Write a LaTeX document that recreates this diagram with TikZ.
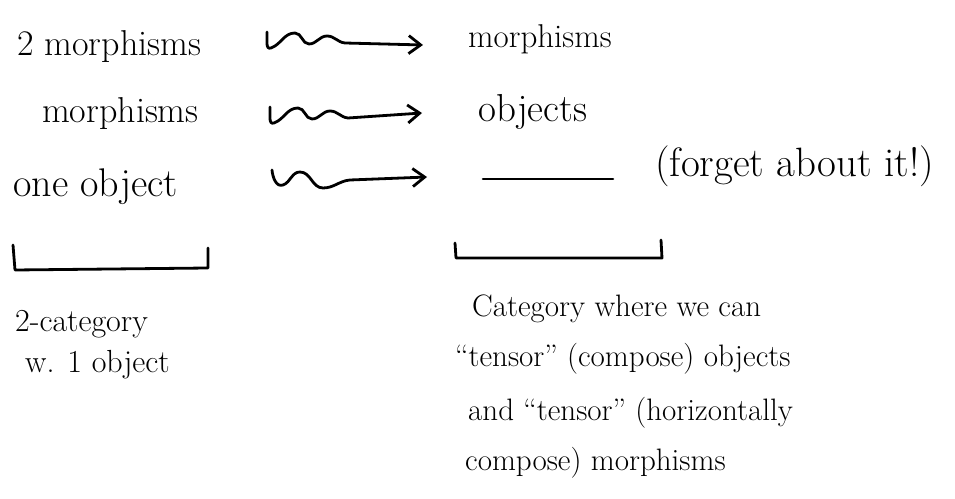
\documentclass[tikz,border=0pt]{standalone}
\usetikzlibrary{arrows.meta}
\begin{document}
\begin{tikzpicture}[x=1pt,y=1pt,
  hw/.style={font=\fontsize{#1}{#1}\selectfont, inner sep=0pt, anchor=base west},
  stroke/.style={line width=2.8pt, line cap=round, line join=round},
  wavy/.style={stroke, -{Straight Barb[length=12pt, width=18pt, line width=2.8pt]}}]
\useasboundingbox (0,0) rectangle (955,498);
% row 1
\node[hw=36] (l1) at (17,442) {2 morphisms};
\node[hw=33] (r1) at (468,450) {morphisms};
\coordinate (s1) at (267,466); \coordinate (e1) at (423,453);
\draw[wavy] (s1) to[out=-85,in=200] ++(4,-16) to[out=20,in=180] ++(24,15)
  to[out=0,in=180] ++(14,-11) to[out=0,in=180] ++(18,8)
  to[out=0,in=175] ++(18,-7) -- (e1);
% row 2
\node[hw=36] (l2) at (42,375) {morphisms};
\node[hw=39] (r2) at (478,376) {objects};
\coordinate (s2) at (270,391); \coordinate (e2) at (422,385);
\draw[wavy] (s2) to[out=-85,in=200] ++(4,-16) to[out=20,in=180] ++(24,15)
  to[out=0,in=180] ++(14,-11) to[out=0,in=180] ++(18,8)
  to[out=0,in=175] ++(18,-7) -- (e2);
% row 3
\node[hw=40] (l3) at (13,301) {one object};
\coordinate (s3) at (272,328); \coordinate (e3) at (427,321);
\draw[wavy] (s3) to[out=-85,in=200] ++(11,-15) to[out=20,in=180] ++(17,13)
  to[out=0,in=180] ++(23,-16) to[out=0,in=185] ++(27,8) -- (e3);
\coordinate (d1) at (483,319); \coordinate (d2) at (613,319);
\draw[line width=2.6pt, line cap=round] (d1) -- (d2);
\node[hw=41] (f3) at (655,321) {(forget about it!)};
% brackets
\draw[stroke] (13,253) -- (15,228) -- (208,230) -- (208,250);
\draw[stroke] (455,255) -- (456,240) -- (662,240) -- (661,258);
% bottom left
\node[hw=32] (b1) at (15,166) {2-category};
\node[hw=32] (b2) at (25,125) {w. 1 object};
% bottom right
\node[hw=31] (c1) at (472,181) {Category where we can};
\node[hw=31] (c2) at (455,131) {``tensor'' (compose) objects};
\node[hw=31] (c3) at (468,78) {and ``tensor'' (horizontally};
\node[hw=31] (c4) at (465,28) {compose) morphisms};
\end{tikzpicture}
\end{document}
